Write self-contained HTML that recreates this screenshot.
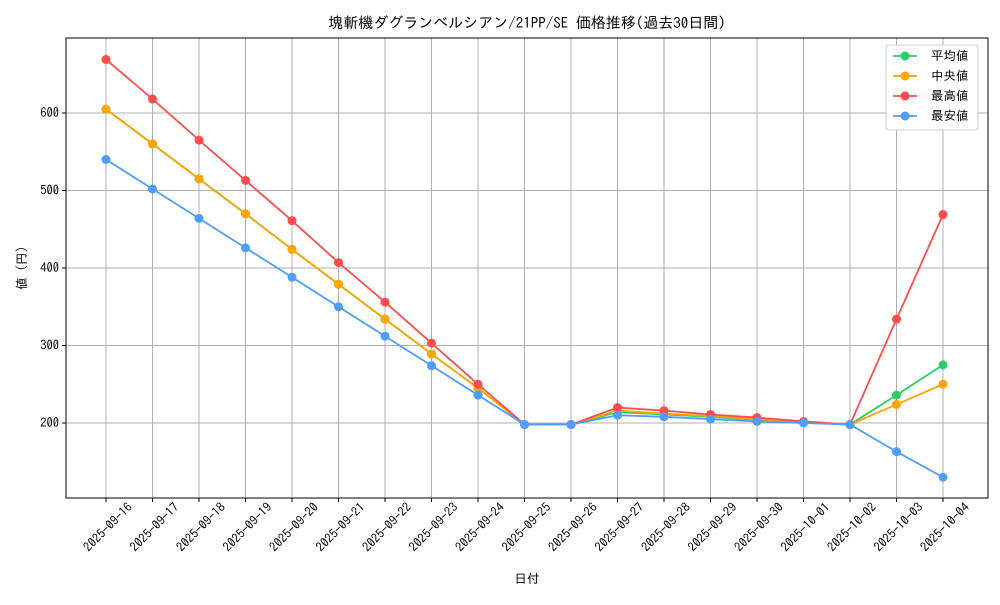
<!DOCTYPE html>
<html><head><meta charset="utf-8"><style>
body{margin:0;background:#fff;}
svg text{font-family:"IPAGothic","Noto Sans CJK JP",sans-serif;fill:#000;}
</style></head><body>
<svg id="chart" width="1000" height="600" xmlns="http://www.w3.org/2000/svg"></svg>
<script>
const categories=["2025-09-16","2025-09-17","2025-09-18","2025-09-19","2025-09-20","2025-09-21","2025-09-22","2025-09-23","2025-09-24","2025-09-25","2025-09-26","2025-09-27","2025-09-28","2025-09-29","2025-09-30","2025-10-01","2025-10-02","2025-10-03","2025-10-04"];
const meanValues=[605,560,515,470,424,379,334,289,245,198,198,214,211,208,204,201,198,236,275];
const medianValues=[605,560,515,470,424,379,334,289,245,198,198,216,212,209,205,201,198,224,250];
const maxValues=[669,618,565,513,461,407,356,303,250,198,198,220,216,211,207,202,198,334,469];
const minValues=[540,502,464,426,388,350,312,274,236,198,198,210,208,205,202,200,198,163,130];
const yTicks=[200,300,400,500,600];
const seriesNames=["平均値","中央値","最高値","最安値"];
const seriesColors=["#2ecc71","#ffa500","#ff4d4d","#4d9eff"];
const NS="http://www.w3.org/2000/svg";
const svg=document.getElementById('chart');
const L=66,R=988,T=38,B=498;
function xPos(i){return 106+i*(943-106)/(categories.length-1);}
function yPos(v){return 423-(v-200)*0.775;}
function mk(tag,attrs,parent){const e=document.createElementNS(NS,tag);for(const k in attrs)e.setAttribute(k,attrs[k]);(parent||svg).appendChild(e);return e;}
categories.forEach((c,i)=>{const g=mk('line',{x1:xPos(i),x2:xPos(i),y1:T,y2:B,stroke:'#b0b0b0','stroke-width':1});


mk('line',{x1:xPos(i),x2:xPos(i),y1:B,y2:B+4,stroke:'#000'});
const t=mk('text',{x:0,y:0,'font-size':12.5,'text-anchor':'end',transform:`translate(${xPos(i)+27},${B+10}) rotate(-45)`});t.textContent=c;

});
yTicks.forEach(v=>{const g=mk('line',{x1:L,x2:R,y1:yPos(v),y2:yPos(v),stroke:'#b0b0b0','stroke-width':1});


mk('line',{x1:L-4,x2:L,y1:yPos(v),y2:yPos(v),stroke:'#000'});
const t=mk('text',{x:L-7,y:yPos(v)+4,'font-size':12.5,'text-anchor':'end'});t.textContent=v;

});
const frame=mk('rect',{x:L,y:T,width:R-L,height:B-T,fill:'none',stroke:'#000','stroke-width':1});


const allSeries=[meanValues,medianValues,maxValues,minValues];
allSeries.forEach((vals,s)=>{const g=mk('g',{});


mk('polyline',{points:vals.map((v,i)=>xPos(i)+','+yPos(v)).join(' '),fill:'none',stroke:seriesColors[s],'stroke-width':1.8},g);
vals.forEach((v,i)=>{const c=mk('circle',{cx:xPos(i),cy:yPos(v),r:4.5,fill:seriesColors[s]},g);

});});
const lg=mk('g',{});


mk('rect',{x:886,y:45,width:92,height:85,fill:'#fff',stroke:'#ccc',rx:3},lg);
seriesNames.forEach((n,s)=>{const y=56+s*20;
const e=mk('g',{},lg);


mk('line',{x1:893,x2:917,y1:y,y2:y,stroke:seriesColors[s],'stroke-width':1.8},e);
mk('circle',{cx:905,cy:y,r:4.5,fill:seriesColors[s]},e);
const t=mk('text',{x:931,y:y+4,'font-size':12.5},e);t.textContent=n;});
const title=mk('text',{x:527,y:28,'font-size':15,'text-anchor':'middle'});title.textContent='塊斬機ダグランベルシアン/21PP/SE 価格推移(過去30日間)';


const xt=mk('text',{x:527,y:583,'font-size':12.5,'text-anchor':'middle'});xt.textContent='日付';


const yt=mk('text',{x:0,y:0,'font-size':12.5,'text-anchor':'middle',transform:'translate(26,268) rotate(-90)'});yt.textContent='値 (円)';


</script>
</body></html>
